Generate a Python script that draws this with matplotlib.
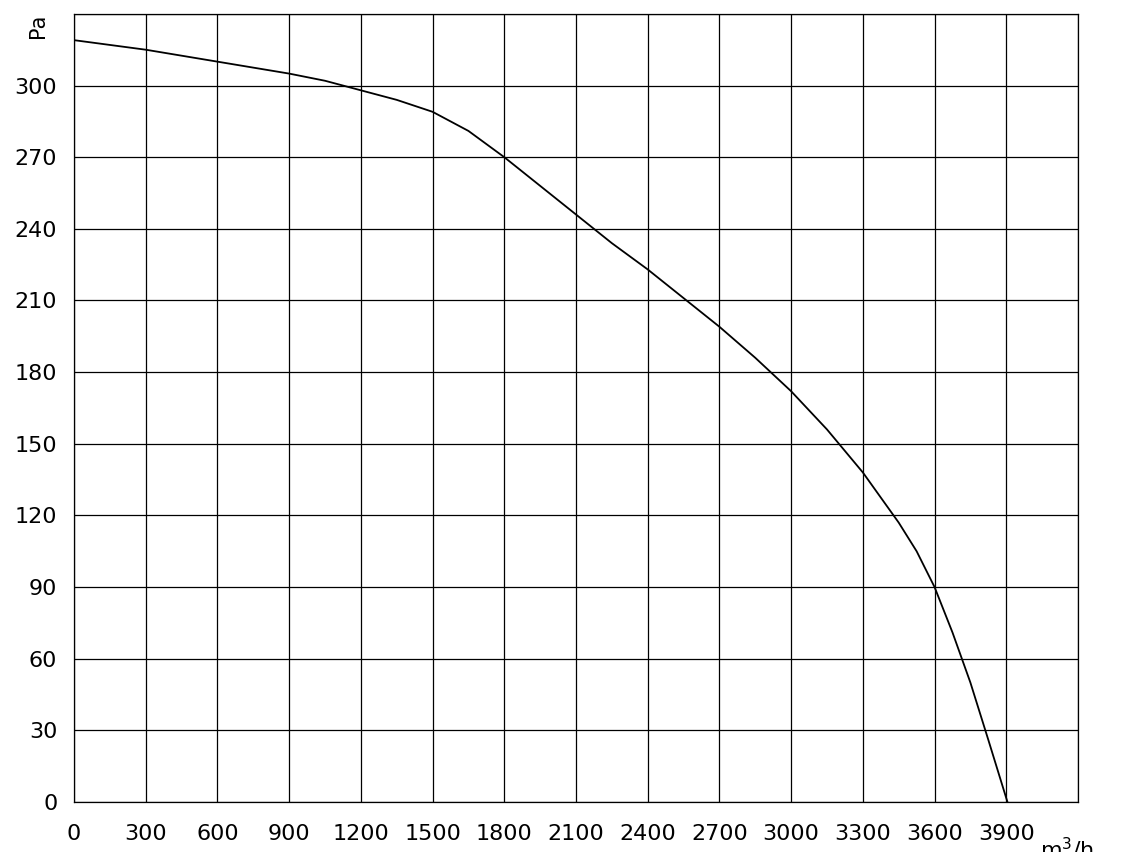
import matplotlib
matplotlib.use("Agg")
import matplotlib.pyplot as plt

flow = [0, 150, 300, 450, 600, 750, 900, 1050, 1200, 1350, 1500, 1650, 1800, 1950, 2100,
        2250, 2400, 2550, 2700, 2850, 3000, 3150, 3300, 3450, 3525, 3600, 3675, 3750, 3825, 3905]
pressure = [319, 317, 315, 312.5, 310, 307.5, 305, 302, 298, 294, 289, 281, 270, 258, 246,
            234, 223, 211, 199, 186, 172, 156, 138, 117, 105, 90, 71, 50, 26, 0]
xticks = list(range(0, 4200, 300))
yticks = list(range(0, 330, 30))

fig = plt.figure(figsize=(11.23, 8.52), dpi=100)
ax = fig.add_axes([0.0659, 0.0587, 0.894, 0.925])
ax.plot(flow, pressure, color="black", lw=1.3)
ax.set_xlim(0, 4200)
ax.set_ylim(0, 330)
ax.set_xticks(xticks + [4200])
ax.set_yticks(yticks + [330])
ax.set_xticklabels([str(v) for v in xticks] + [""], fontsize=16)
ax.set_yticklabels([str(v) for v in yticks] + [""], fontsize=16)
ax.grid(True, color="black", lw=0.9)
ax.tick_params(axis="x", length=0, pad=16)
ax.tick_params(axis="y", length=0, pad=12)
for s in ax.spines.values():
    s.set_linewidth(0.9)
ax.text(4040, -14, "m$^3$/h", fontsize=16, va="top", ha="left")
ax.text(-150, 330, "Pa", fontsize=15, rotation=90, ha="center", va="top")
fig.savefig("out.png", dpi=100)
